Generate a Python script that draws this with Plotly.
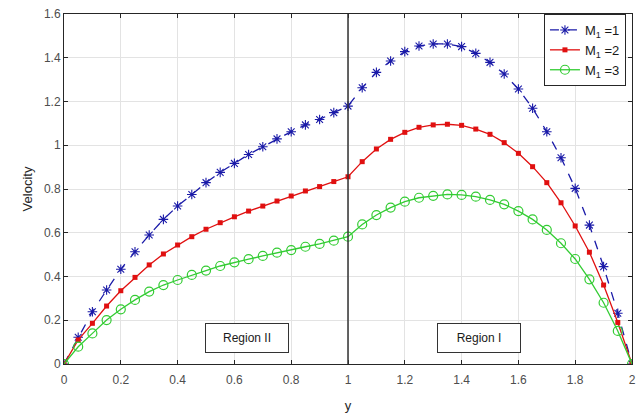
import plotly.graph_objects as go

x_vals = [round(i * 0.05, 2) for i in range(41)]

m1_vals = [0, 0.122, 0.239, 0.338, 0.433, 0.513, 0.590, 0.661, 0.722, 0.775, 0.829,
           0.876, 0.917, 0.958, 0.993, 1.029, 1.062, 1.093, 1.118, 1.149, 1.179,
           1.263, 1.333, 1.385, 1.428, 1.454, 1.463, 1.463, 1.451, 1.420, 1.379,
           1.326, 1.257, 1.169, 1.062, 0.943, 0.803, 0.635, 0.445, 0.232, 0]
m2_vals = [0, 0.110, 0.186, 0.265, 0.335, 0.396, 0.453, 0.503, 0.544, 0.582, 0.616,
           0.646, 0.673, 0.699, 0.722, 0.745, 0.768, 0.791, 0.811, 0.834, 0.856,
           0.925, 0.983, 1.027, 1.059, 1.082, 1.093, 1.096, 1.091, 1.074, 1.050,
           1.012, 0.963, 0.902, 0.829, 0.737, 0.631, 0.511, 0.361, 0.190, 0]
m3_vals = [0, 0.079, 0.140, 0.201, 0.250, 0.293, 0.331, 0.361, 0.384, 0.407, 0.427,
           0.448, 0.465, 0.479, 0.494, 0.509, 0.521, 0.536, 0.549, 0.564, 0.582,
           0.638, 0.681, 0.715, 0.742, 0.760, 0.769, 0.775, 0.773, 0.765, 0.750,
           0.730, 0.699, 0.661, 0.613, 0.552, 0.480, 0.387, 0.280, 0.151, 0]

x_tick_vals = [0, 0.2, 0.4, 0.6, 0.8, 1, 1.2, 1.4, 1.6, 1.8, 2]
x_tick_text = ["0", "0.2", "0.4", "0.6", "0.8", "1", "1.2", "1.4", "1.6", "1.8", "2"]
y_tick_vals = [0, 0.2, 0.4, 0.6, 0.8, 1, 1.2, 1.4, 1.6]
y_tick_text = ["0", "0.2", "0.4", "0.6", "0.8", "1", "1.2", "1.4", "1.6"]

series_names = ["M<sub>1</sub> =1", "M<sub>1</sub> =2", "M<sub>1</sub> =3"]
region_labels = ["Region II", "Region I"]
region_x = [0.643, 1.46]

FONT = "Liberation Sans, Arial"

fig = go.Figure()
fig.add_trace(go.Scatter(
    x=x_vals, y=m1_vals, name=series_names[0], mode="lines+markers",
    line=dict(color="#1a1aa8", width=1.3, dash="dash"),
    marker=dict(symbol="asterisk-open", size=8, color="#1a1aa8",
                line=dict(color="#1a1aa8", width=1.1))))
fig.add_trace(go.Scatter(
    x=x_vals, y=m2_vals, name=series_names[1], mode="lines+markers",
    line=dict(color="#e01010", width=1.3),
    marker=dict(symbol="square", size=5, color="#e01010")))
fig.add_trace(go.Scatter(
    x=x_vals, y=m3_vals, name=series_names[2], mode="lines+markers",
    line=dict(color="#33cc33", width=1.3),
    marker=dict(symbol="circle-open", size=9, color="#33cc33",
                line=dict(color="#33cc33", width=1.2))))

fig.add_shape(type="line", x0=1, x1=1, y0=0, y1=1.6, xref="x", yref="y",
              line=dict(color="#333333", width=1.5))

for lbl, xc in zip(region_labels, region_x):
    fig.add_annotation(x=xc, y=0.12, xref="x", yref="y", text=lbl, showarrow=False,
                       font=dict(family=FONT, size=12, color="#1a1a1a"),
                       bgcolor="white", bordercolor="#333333", borderwidth=1,
                       width=78, height=24, borderpad=2)

axis_common = dict(showgrid=True, gridcolor="#e3e3e3", gridwidth=1,
                   showline=True, linecolor="#262626", linewidth=1, mirror="ticks",
                   ticks="inside", ticklen=4, tickcolor="#262626", zeroline=False,
                   ticklabeloverflow="allow",
                   tickfont=dict(family=FONT, size=12, color="#4d4d4d"))

fig.update_xaxes(range=[0, 2.0], tickvals=x_tick_vals, ticktext=x_tick_text,
                 ticklabelstandoff=5,
                 title=dict(text="y", standoff=14,
                            font=dict(family=FONT, size=13, color="#262626")),
                 **axis_common)
fig.update_yaxes(range=[0, 1.6], tickvals=y_tick_vals, ticktext=y_tick_text,
                 title=dict(text="Velocity", standoff=8,
                            font=dict(family=FONT, size=13, color="#262626")),
                 **axis_common)

fig.update_layout(
    width=636, height=414,
    margin=dict(l=64, r=0, t=14, b=50),
    plot_bgcolor="white", paper_bgcolor="white",
    legend=dict(x=0.845, y=1, xanchor="left", yanchor="top",
                bgcolor="white", bordercolor="#262626", borderwidth=1,
                font=dict(family=FONT, size=13, color="#1a1a1a"),
                tracegroupgap=0, itemwidth=30),
    showlegend=True,
)

fig.write_html("out.html")
